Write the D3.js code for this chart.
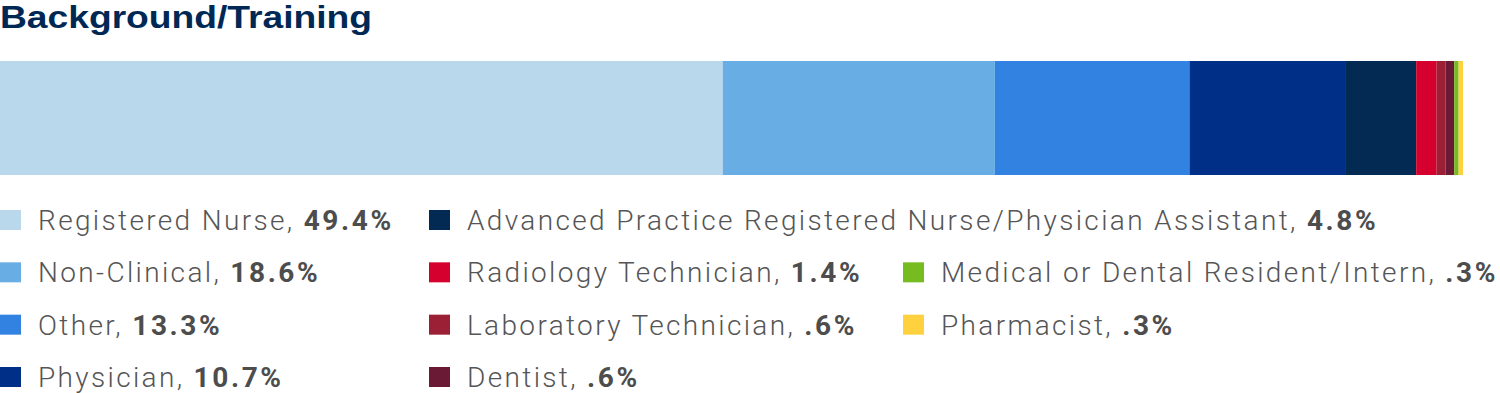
<!DOCTYPE html>
<html><head><meta charset="utf-8">
<script src="https://cdn.jsdelivr.net/npm/d3@7"></script>
<style>
html,body{margin:0;padding:0;background:#fff;overflow:hidden;}
svg{display:block;}
</style></head>
<body>
<div id="chart"></div>
<script>
const title = "Background/Training";
const categories = ["Registered Nurse","Non-Clinical","Other","Physician","Advanced Practice Registered Nurse/Physician Assistant","Radiology Technician","Laboratory Technician","Dentist","Medical or Dental Resident/Intern","Pharmacist"];
const values = [49.4,18.6,13.3,10.7,4.8,1.4,0.6,0.6,0.3,0.3];
const valueLabels = ["49.4%","18.6%","13.3%","10.7%","4.8%","1.4%",".6%",".6%",".3%",".3%"];
const colors = ["#bad8ec","#68aee4","#3282e2","#002f87","#022a52","#d6002f","#9b1f35","#6b1a35","#76bc21","#ffd13f"];

const W = 1500, H = 393;
const svg = d3.select("#chart").append("svg").attr("width", W).attr("height", H);

svg.append("text").attr("x", 0).attr("y", 28)
  .attr("font-family", "Liberation Sans, Arial, sans-serif").attr("font-weight", 700)
  .attr("font-size", 31).attr("fill", "#002855")
  .attr("textLength", 372).attr("lengthAdjust", "spacingAndGlyphs")
  .text(title);

const x = d3.scaleLinear().domain([0, d3.sum(values)]).range([0, 1463]);
const y = d3.scaleBand().domain(["bar"]).range([61, 175]).padding(0);
const starts = values.map((v, i) => d3.sum(values.slice(0, i)));

svg.append("g").selectAll("rect").data(values).join("rect")
  .attr("x", (d, i) => x(starts[i]))
  .attr("y", y("bar"))
  .attr("width", (d, i) => x(starts[i] + d) - x(starts[i]))
  .attr("height", y.bandwidth())
  .attr("fill", (d, i) => colors[i]);

// legend layout: column, row for each category
const colX = [0, 429, 903];
const rowY = d3.scaleLinear().domain([0, 3]).range([230, 387]);
const legendPos = categories.map((c, i) => i < 4 ? [0, i] : i < 8 ? [1, i - 4] : [2, i - 7]);

const lg = svg.append("g").selectAll("g").data(categories).join("g")
  .attr("transform", (d, i) => `translate(${colX[legendPos[i][0]]},${rowY(legendPos[i][1])})`);
lg.append("rect").attr("x", 0).attr("y", -20).attr("width", 21).attr("height", 20)
  .attr("fill", (d, i) => colors[i]);
const t = lg.append("text").attr("x", 38).attr("y", 0)
  .attr("font-family", "Roboto, Liberation Sans, sans-serif").attr("font-size", 28)
  .attr("fill", "#555");
t.append("tspan").attr("font-weight", 300).attr("letter-spacing", 2.35).text(d => d + ", ");
t.append("tspan").attr("font-weight", 700).attr("letter-spacing", 2.6).attr("fill", "#4d4d4d").text((d, i) => valueLabels[i]);
</script>
</body></html>
